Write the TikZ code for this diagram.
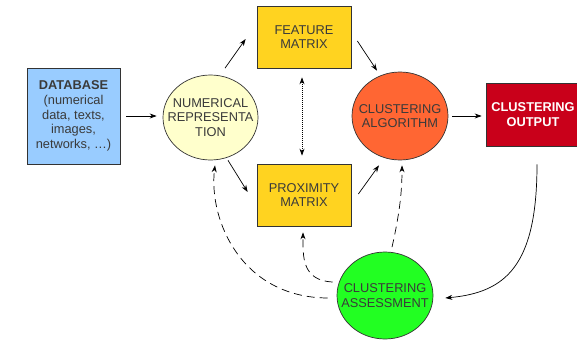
\documentclass[tikz,border=0pt]{standalone}
\usepackage{fontspec}
\setmainfont{Liberation Sans}
\usetikzlibrary{shapes.geometric,arrows.meta,calc}
\definecolor{dbblue}{HTML}{99CCFF}
\definecolor{numyel}{HTML}{FFFFCC}
\definecolor{matgold}{HTML}{FFD320}
\definecolor{algoor}{HTML}{FF6633}
\definecolor{outred}{HTML}{C9001A}
\definecolor{asgreen}{HTML}{22FF22}
\definecolor{txtgray}{HTML}{3A3A3A}
\tikzset{
  txt/.style={font=\fontsize{12.8}{14.8}\selectfont, text=txtgray, align=center},
  base/.style={draw=black!80, line width=0.7pt, inner sep=0pt, txt},
  boxnode/.style={base, rectangle},
  ellnode/.style={base, ellipse, label={[txt]center:#1}},
  arr/.style={-{Stealth[length=7pt,width=5pt]}, line width=0.7pt},
  darr/.style={arr, dash pattern=on 8pt off 5pt},
}
\begin{document}
\begin{tikzpicture}[x=1pt,y=-1pt]
\useasboundingbox (0,0) rectangle (577,340);
\node[boxnode, fill=dbblue, minimum width=93pt, minimum height=96pt] (db) at (73.5,116)
  {\textbf{DATABASE}\\(numerical\\data, texts,\\images,\\networks, …)};
\node[ellnode={NUMERICAL\\REPRESENTA\\TION}, fill=numyel, minimum width=95pt, minimum height=85pt] (num) at (210.5,117.5) {};
\node[boxnode, fill=matgold, minimum width=94pt, minimum height=62pt] (feat) at (304,37)
  {FEATURE\\MATRIX};
\node[boxnode, fill=matgold, minimum width=94pt, minimum height=62pt] (prox) at (304,195)
  {PROXIMITY\\MATRIX};
\node[ellnode={CLUSTERING\\ALGORITHM}, fill=algoor, minimum width=96pt, minimum height=88pt] (algo) at (400,116) {};
\node[boxnode, fill=outred, text=white, font=\fontsize{12.8}{14.8}\selectfont\bfseries,
  minimum width=93pt, minimum height=63pt] (out) at (533,114.5)
  {CLUSTERING\\OUTPUT};
\node[ellnode={CLUSTERING\\ASSESSMENT}, fill=asgreen, minimum width=96pt, minimum height=87pt] (as) at (385,295.5) {};

\draw[arr] ($(db.east)+(6,0)$) -- ($(num.west)+(-6,-1.5)$);
\draw[arr] ($(num.north)+(14.5,-6.5)$) -- ($(feat.west)+(-11,2)$);
\draw[arr] ($(num.south)+(17.5,0)$) -- ($(prox.west)+(-9,-3)$);
\draw[arr] ($(feat.east)+(6,4)$) -- ($(algo.north)+(-23,-1)$);
\draw[arr] ($(prox.east)+(7,-1)$) -- ($(algo.south)+(-21,5)$);
\draw[arr] ($(algo.east)+(4,0)$) -- ($(out.west)+(-4.5,1.5)$);
\draw[{Stealth[length=7pt,width=5pt]}-{Stealth[length=7pt,width=5pt]}, line width=0.7pt,
  dash pattern=on 1pt off 1pt] ($(feat.south)+(-2,9)$) -- ($(prox.north)+(-2,-8)$);
\draw[arr] ($(out.south)+(4,18)$) .. controls ($(out.south)+(4,120)$) and ($(as.east)+(72,-3)$) .. ($(as.east)+(12,2.5)$);
\draw[darr] ($(as.north)+(7,-4.5)$) .. controls ($(as.north)+(15,-40)$) and ($(algo.south)+(2,30)$) .. ($(algo.south)+(2,5)$);
\draw[darr] ($(as.west)+(-4,-13.5)$) .. controls ($(as.west)+(-35,-15)$) and ($(prox.south)+(-1,30)$) .. ($(prox.south)+(-1,6)$);
\draw[darr] ($(as.west)+(-9,2.5)$) .. controls ($(as.west)+(-95,2)$) and ($(num.south)+(-2,60)$) .. ($(num.south)+(4.5,5)$);
\end{tikzpicture}
\end{document}
